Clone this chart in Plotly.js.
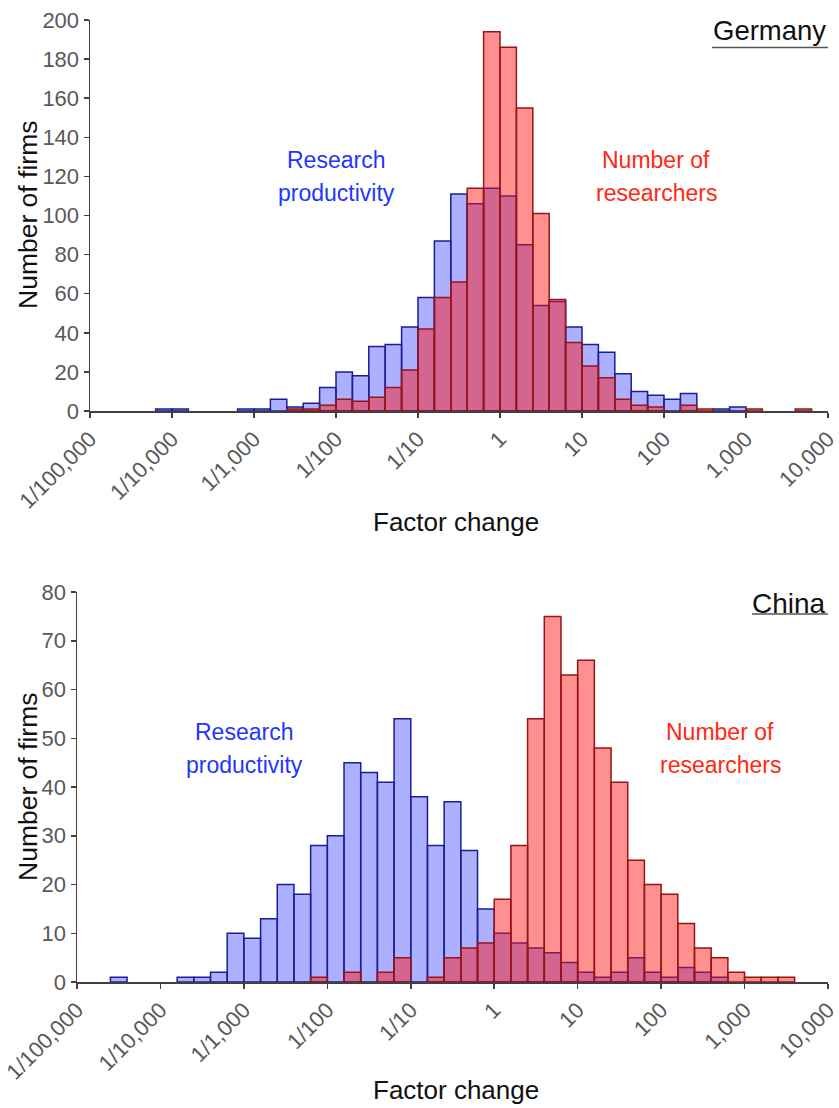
<!DOCTYPE html>
<html>
<head>
<meta charset="utf-8">
<script src="https://cdn.plot.ly/plotly-3.0.1.min.js"></script>
<style>
  html, body { margin: 0; padding: 0; background: #ffffff; overflow: hidden; }
  #chart { width: 839px; height: 1108px; }
</style>
</head>
<body>
<div id="chart"></div>
<script>
// Histogram bins: centres in log10(factor change), bin width 0.2 decades
const binCenters = [-4.9,-4.7,-4.5,-4.3,-4.1,-3.9,-3.7,-3.5,-3.3,-3.1,
                    -2.9,-2.7,-2.5,-2.3,-2.1,-1.9,-1.7,-1.5,-1.3,-1.1,
                    -0.9,-0.7,-0.5,-0.3,-0.1,0.1,0.3,0.5,0.7,0.9,
                    1.1,1.3,1.5,1.7,1.9,2.1,2.3,2.5,2.7,2.9,
                    3.1,3.3,3.5,3.7,3.9];
const binWidth = 0.2;

// Germany
const germanyProductivity = [0,0,0,0,1,1,0,0,0,1,1,6,2,4,12,20,18,33,34,43,58,87,111,106,114,110,85,54,56,43,34,30,19,10,8,6,9,0,1,2,0,0,0,0,0];
const germanyResearchers  = [0,0,0,0,0,0,0,0,0,0,0,0,1,1,3,6,5,7,12,21,42,58,66,114,194,186,155,101,57,35,23,17,6,3,2,0,3,1,0,0,1,0,0,1,0];

// China
const chinaProductivity = [0,0,1,0,0,0,1,1,2,10,9,13,20,18,28,30,45,43,41,54,38,28,37,27,15,10,8,7,6,4,2,1,2,5,2,1,3,2,1,0,0,0,0,0,0];
const chinaResearchers  = [0,0,0,0,0,0,0,0,0,0,0,0,0,0,1,0,2,0,2,5,0,1,5,7,8,17,28,54,75,63,66,48,41,25,20,18,12,7,5,2,1,1,1,0,0];

// Axis ticks
const xTickVals = [-5,-4,-3,-2,-1,0,1,2,3,4];
const xTickText = ["1/100,000","1/10,000","1/1,000","1/100","1/10","1","10","100","1,000","10,000"];

const W = 839, H = 1108;
const px = v => v / W;
const py = v => 1 - v / H;

const FONT = "Liberation Sans, Arial, Helvetica, sans-serif";
const blueFill = "rgba(70,80,255,0.45)";
const blueLine = "rgb(25,30,150)";
const redFill = "rgba(255,20,20,0.47)";
const redLine = "rgb(150,20,20)";

function barTrace(y, fill, line, xa, ya) {
  return {
    type: "bar", x: binCenters, y: y.map(v => (v === 0 ? null : v)), width: binWidth,
    xaxis: xa, yaxis: ya,
    marker: { color: fill, line: { color: line, width: 1.5 } },
    hoverinfo: "skip", showlegend: false
  };
}

const data = [
  barTrace(germanyProductivity, blueFill, blueLine, "x", "y"),
  barTrace(germanyResearchers, redFill, redLine, "x", "y"),
  barTrace(chinaProductivity, blueFill, blueLine, "x2", "y2"),
  barTrace(chinaResearchers, redFill, redLine, "x2", "y2")
];

const axisCommon = {
  showline: true, linecolor: "#404040", linewidth: 1.5,
  ticks: "outside", ticklen: 5, tickwidth: 1.5, tickcolor: "#404040",
  showgrid: false, zeroline: false, fixedrange: true,
  tickfont: { family: FONT, size: 22, color: "#595959" },
  ticklabeloverflow: "allow",
  layer: "above traces"
};

function xAxis(domain, anchor) {
  return Object.assign({}, axisCommon, {
    domain: domain, range: [-5, 4], anchor: anchor,
    tickmode: "array", tickvals: xTickVals, ticktext: xTickText, tickangle: -45
  });
}
function yAxis(domain, anchor, maxv, dt) {
  return Object.assign({}, axisCommon, {
    domain: domain, range: [0, maxv], anchor: anchor, dtick: dt, tick0: 0
  });
}

function label(text, x, y, color, size, extra) {
  return Object.assign({
    text: text, x: px(x), y: py(y), xref: "paper", yref: "paper",
    showarrow: false, xanchor: "center", yanchor: "middle",
    font: { family: FONT, size: size, color: color }
  }, extra || {});
}

const blueTxt = "rgb(30,55,255)";
const redTxt = "rgb(255,40,20)";

const annotations = [
  // Germany
  label("Research", 336, 160, blueTxt, 23),
  label("productivity", 336, 193, blueTxt, 23),
  label("Number of", 656, 160, redTxt, 23),
  label("researchers", 656, 193, redTxt, 23),
  label("Germany", 828, 30, "#111111", 27.5, { xanchor: "right" }),
  label("Number of firms", 28, 215, "#111111", 26.5, { textangle: -90 }),
  label("Factor change", 456, 522, "#111111", 26),
  // China
  label("Research", 244, 732, blueTxt, 23),
  label("productivity", 244, 765, blueTxt, 23),
  label("Number of", 720, 732, redTxt, 23),
  label("researchers", 720, 765, redTxt, 23),
  label("China", 828, 603, "#111111", 28, { xanchor: "right" }),
  label("Number of firms", 28, 787, "#111111", 26.5, { textangle: -90 }),
  label("Factor change", 456, 1090, "#111111", 26)
];

const shapes = [
  { type: "line", xref: "paper", yref: "paper", x0: px(712), x1: px(828), y0: py(47.5), y1: py(47.5),
    line: { color: "#555555", width: 1.5 } },
  { type: "line", xref: "paper", yref: "paper", x0: px(752), x1: px(828), y0: py(614), y1: py(614),
    line: { color: "#555555", width: 1.5 } }
];

const layout = {
  width: W, height: H,
  margin: { l: 0, r: 0, t: 0, b: 0 },
  paper_bgcolor: "#ffffff", plot_bgcolor: "rgba(0,0,0,0)",
  barmode: "overlay", bargap: 0,
  showlegend: false,
  xaxis: xAxis([px(90), px(828)], "y"),
  yaxis: yAxis([py(411), py(20)], "x", 200, 20),
  xaxis2: xAxis([px(77), px(828)], "y2"),
  yaxis2: yAxis([py(982), py(592)], "x2", 80, 10),
  annotations: annotations,
  shapes: shapes,
  font: { family: FONT }
};

Plotly.newPlot("chart", data, layout, { displayModeBar: false, staticPlot: true });
</script>
</body>
</html>
